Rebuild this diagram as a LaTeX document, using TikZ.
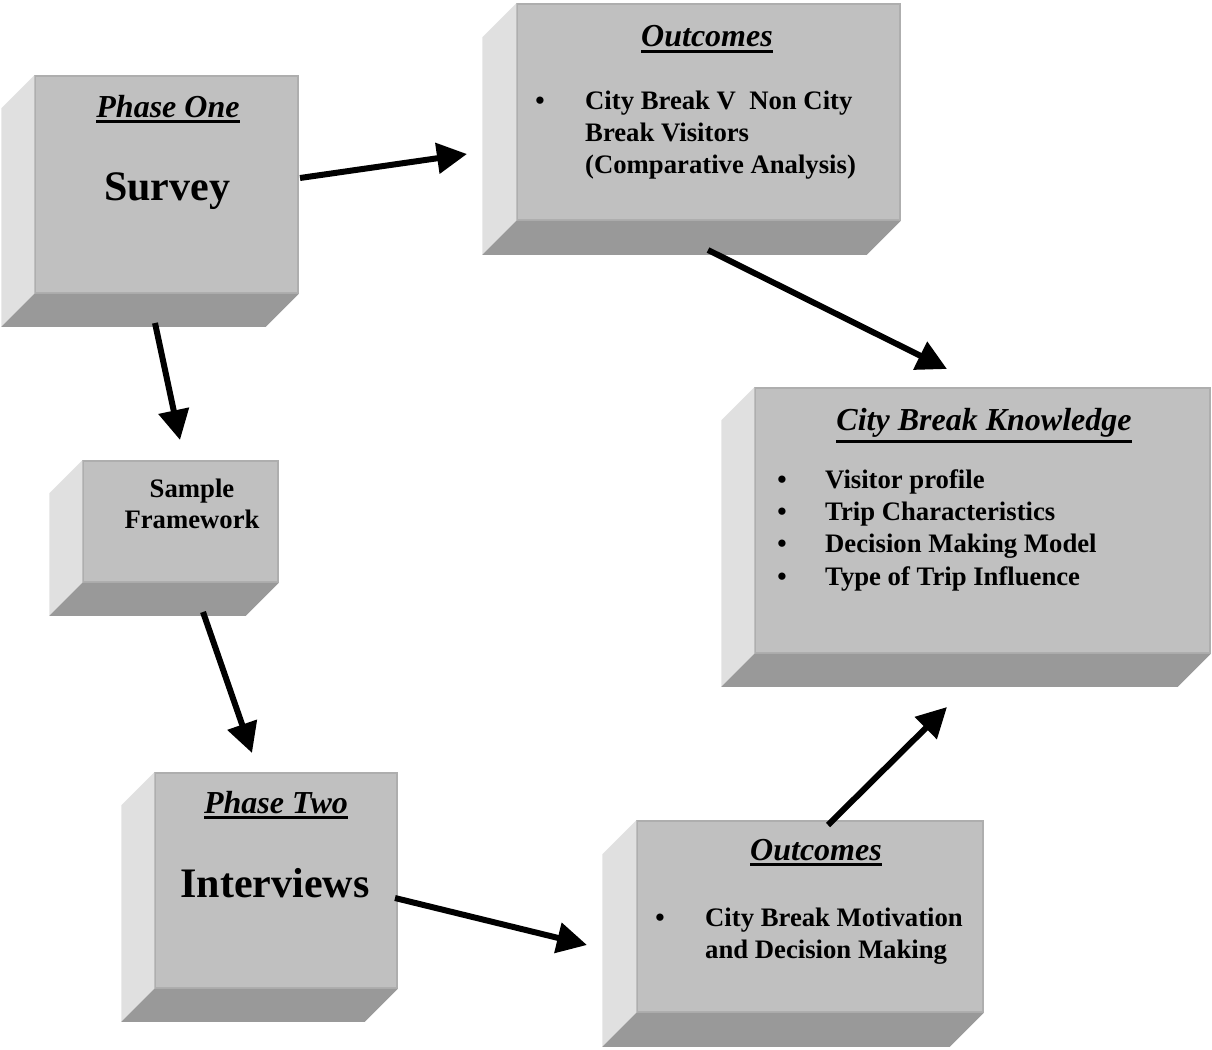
\documentclass[tikz,border=0pt]{standalone}
\usepackage{fontspec}
\setmainfont{Liberation Serif}
\usetikzlibrary{arrows.meta,calc,fit}

\definecolor{faceC}{RGB}{192,192,192}
\definecolor{sideC}{RGB}{224,224,224}
\definecolor{baseC}{RGB}{153,153,153}
\definecolor{edgeC}{RGB}{174,174,174}

% underlined heading word(s)
\newcommand{\ulbox}[1]{\vtop{\hbox{#1}\kern3pt\hrule height 2.6pt}}
\newcommand{\headf}{\fontsize{32}{38}\selectfont\bfseries\itshape}
\newcommand{\bigf}{\fontsize{42}{48}\selectfont\bfseries}
\newcommand{\bodyf}{\fontsize{26.7}{32.4}\selectfont\bfseries}

% bevelled slab: front face node plus left and bottom bevels
% #1 name, (#2,#3) top-left, (#4,#5) bottom-right, #6 bevel depth
\newcommand{\slab}[6]{%
  \node[face, fit={(#2,#3) (#4,#5)}] (#1) {};
  \fill[sideC] (#1.north west) -- (#1.south west) -- ++(-#6,#6)
      -- ($(#1.north west)+(-#6,#6)$) -- cycle;
  \fill[baseC] (#1.south west) -- (#1.south east) -- ++(-#6,#6)
      -- ($(#1.south west)+(-#6,#6)$) -- cycle;
}

\tikzset{
  face/.style={rectangle, fill=faceC, draw=edgeC, line width=1.5pt, inner sep=0pt},
  txt/.style={inner sep=0pt, anchor=base},
  lst/.style={inner sep=0pt, anchor=base west},
  flow/.style={line width=6pt, -{Triangle[length=30pt,width=30pt]}},
}

\begin{document}
\begin{tikzpicture}[x=1pt,y=-1pt]
\useasboundingbox (0,0) rectangle (1212,1049);

% ---- boxes ----
\slab{p1}{35}{76}{298}{293}{33}
\slab{o1}{517}{4}{900}{220}{34}
\slab{sf}{83}{461}{278}{582}{33}
\slab{kb}{755}{388}{1210}{653}{33}
\slab{p2}{155}{773}{397}{988}{33}
\slab{o2}{637}{821}{983}{1012}{34}

% ---- Phase One ----
\node[txt] (p1h) at (168,117) {\headf\ulbox{Phase One}};
\node[txt] (p1b) at (167,200) {\bigf Survey};

% ---- Outcomes (survey) ----
\node[txt] (o1h) at (707,47) {\headf\ulbox{Outcomes}};
\node[txt] (o1d) at (540,109) {\bodyf\textbullet};
\node[lst] (o1b) at (585,109) {\bodyf\begin{tabular}[t]{@{}l@{}}City Break V\ \ Non City\\Break Visitors\\(Comparative Analysis)\end{tabular}};

% ---- Sample Framework ----
\node[txt] (sfb) at (192,497) {\bodyf\begin{tabular}[t]{@{}c@{}}Sample\\[-1.4pt]Framework\end{tabular}};

% ---- City Break Knowledge ----
\node[txt] (kbh) at (984,430) {\headf\ulbox{City Break Knowledge}};
\node[txt] (kbd) at (782,488) {\bodyf\begin{tabular}[t]{@{}c@{}}\textbullet\\\textbullet\\\textbullet\\\textbullet\end{tabular}};
\node[lst] (kbb) at (825,488) {\bodyf\begin{tabular}[t]{@{}l@{}}Visitor profile\\Trip Characteristics\\Decision Making Model\\Type of Trip Influence\end{tabular}};

% ---- Phase Two ----
\node[txt] (p2h) at (276,813) {\headf\ulbox{Phase Two}};
\node[txt] (p2b) at (275,897) {\bigf Interviews};

% ---- Outcomes (interviews) ----
\node[txt] (o2h) at (816,860) {\headf\ulbox{Outcomes}};
\node[txt] (o2d) at (660,926) {\bodyf\textbullet};
\node[lst] (o2b) at (705,926) {\bodyf\begin{tabular}[t]{@{}l@{}}City Break Motivation\\and Decision Making\end{tabular}};

% ---- connector ends ----
\coordinate (a1s) at (300,178);  \coordinate (a1e) at (467,154);
\coordinate (a2s) at (155,323);  \coordinate (a2e) at (180,440);
\coordinate (a3s) at (708,250);  \coordinate (a3e) at (947,369);
\coordinate (a4s) at (203,612);  \coordinate (a4e) at (252,753);
\coordinate (a5s) at (395,898);  \coordinate (a5e) at (587,945);
\coordinate (a6s) at (828,825);  \coordinate (a6e) at (947,707);

\draw[flow] (a1s) -- (a1e);
\draw[flow] (a2s) -- (a2e);
\draw[flow] (a3s) -- (a3e);
\draw[flow] (a4s) -- (a4e);
\draw[flow] (a5s) -- (a5e);
\draw[flow] (a6s) -- (a6e);
\end{tikzpicture}
\end{document}
